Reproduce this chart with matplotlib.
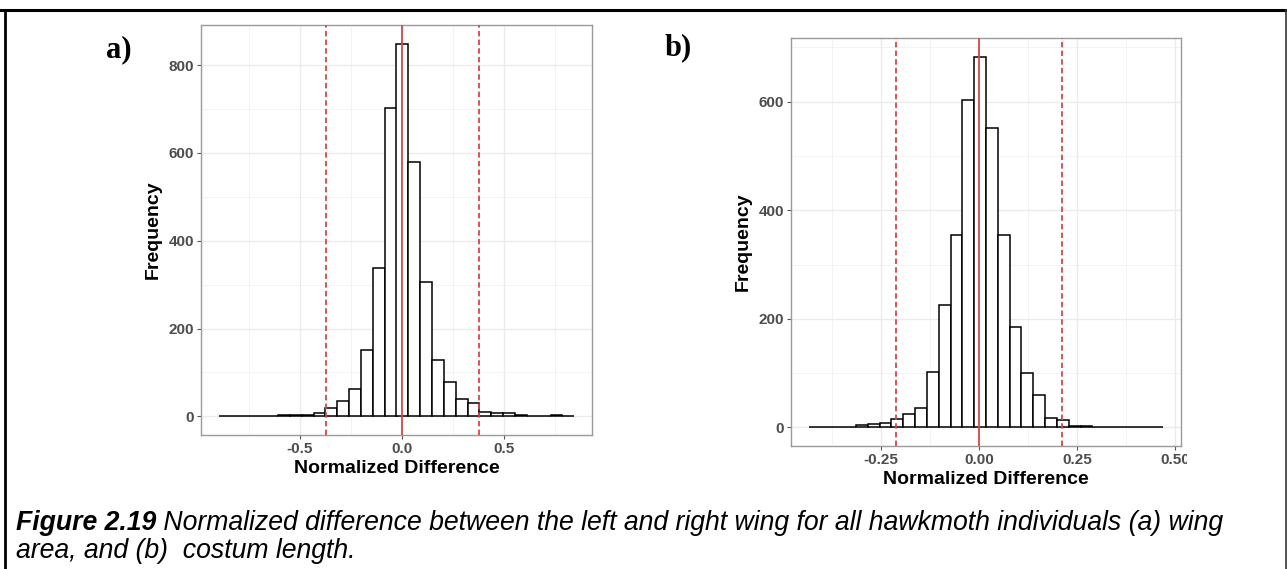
import numpy as np
import matplotlib.pyplot as plt
from matplotlib.lines import Line2D
from matplotlib.transforms import Bbox, TransformedBbox

plt.rcParams['font.family'] = ['Liberation Sans', 'DejaVu Sans']

# (a) wing area: 30 histogram bins
a_bin_start = -0.8976
a_bin_width = 0.0580
a_counts = [1, 0, 1, 0, 0, 4, 2, 3, 7, 18, 34, 63, 151, 337, 702,
            849, 579, 307, 128, 78, 40, 30, 10, 7, 8, 3, 1, 0, 2, 1]
a_mean = 0.0
a_bounds = [-0.375, 0.375]
a_xticks = [-0.5, 0.0, 0.5]
a_xticklabels = ['-0.5', '0.0', '0.5']
a_xminor = [-0.75, -0.25, 0.25, 0.75]
a_yticks = [0, 200, 400, 600, 800]
a_yminor = [100, 300, 500, 700]

# (b) costum length: 30 histogram bins
b_bin_start = -0.4347
b_bin_width = 0.03017
b_counts = [1, 0, 0, 0, 4, 7, 9, 16, 25, 36, 103, 225, 354, 603, 683,
            551, 354, 185, 101, 59, 18, 13, 2, 2, 1, 1, 0, 0, 0, 1]
b_mean = 0.0
b_bounds = [-0.213, 0.213]
b_xticks = [-0.25, 0.0, 0.25, 0.5]
b_xticklabels = ['-0.25', '0.00', '0.25', '0.50']
b_xminor = [-0.375, -0.125, 0.125, 0.375]
b_yticks = [0, 200, 400, 600]
b_yminor = [100, 300, 500, 700]

caption_bold = "Figure 2.19"
caption_rest = (" Normalized difference between the left and right wing "
                "for all hawkmoth individuals (a) wing")
caption_line2 = "area, and (b)  costum length."

W, H = 1287, 569
LINE_RED = '#D94545'


def draw_hist(ax, start, width, counts, mean, bounds,
              xticks, xticklabels, xminor, yticks, yminor):
    counts = np.asarray(counts)
    edges = start + width * np.arange(len(counts) + 1)

    # ggplot-like 5% expansion
    span = edges[-1] - edges[0]
    ax.set_xlim(edges[0] - 0.05 * span, edges[-1] + 0.05 * span)
    top = counts.max()
    ax.set_ylim(-0.05 * top, 1.05 * top)

    for v in xminor:
        ax.axvline(v, color='#F3F3F3', lw=0.7, zorder=0)
    for v in yminor:
        ax.axhline(v, color='#F3F3F3', lw=0.7, zorder=0)
    for v in xticks:
        ax.axvline(v, color='#EBEBEB', lw=1.0, zorder=0)
    for v in yticks:
        ax.axhline(v, color='#EBEBEB', lw=1.0, zorder=0)

    ax.bar(edges[:-1], counts, width=width, align='edge',
           facecolor='white', edgecolor='black', linewidth=1.1, zorder=2)

    ax.axvline(mean, color=LINE_RED, lw=1.3, zorder=3)
    for b in bounds:
        ax.axvline(b, color=LINE_RED, lw=1.3, ls=(0, (3, 1.8)), zorder=3)

    ax.set_xticks(xticks)
    ax.set_xticklabels(xticklabels)
    ax.set_yticks(yticks)
    ax.tick_params(length=3, width=0.8, color='#555555', labelsize=11,
                   labelcolor='#4D4D4D', pad=2)
    for lab in ax.get_xticklabels() + ax.get_yticklabels():
        lab.set_fontweight('bold')

    ax.set_xlabel('Normalized Difference', fontsize=14, fontweight='bold',
                  labelpad=3)
    ax.set_ylabel('Frequency', fontsize=14, fontweight='bold', labelpad=5)

    for s in ax.spines.values():
        s.set_color('#9A9A9A')
        s.set_linewidth(1.0)


fig = plt.figure(figsize=(W / 100, H / 100), dpi=100)

ax_a = fig.add_axes([201 / W, 1 - 435 / H, 391 / W, 410 / H])
draw_hist(ax_a, a_bin_start, a_bin_width, a_counts, a_mean, a_bounds,
          a_xticks, a_xticklabels, a_xminor, a_yticks, a_yminor)

ax_b = fig.add_axes([791 / W, 1 - 446 / H, 390 / W, 408 / H])
draw_hist(ax_b, b_bin_start, b_bin_width, b_counts, b_mean, b_bounds,
          b_xticks, b_xticklabels, b_xminor, b_yticks, b_yminor)

# the source image of panel b was cropped just right of the plot
clip = TransformedBbox(Bbox([[0, 0], [1187 / W, 1]]), fig.transFigure)
for lab in ax_b.get_xticklabels():
    lab.set_clip_box(clip)
    lab.set_clip_on(True)

fig.text(106 / W, 1 - 57 / H, 'a)', family='Liberation Serif',
         fontweight='bold', fontsize=22, va='baseline')
fig.text(665 / W, 1 - 55 / H, 'b)', family='Liberation Serif',
         fontweight='bold', fontsize=22, va='baseline')

# page frame
fig.add_artist(Line2D([0, 1], [1 - 9.7 / H] * 2, transform=fig.transFigure,
                      color='black', lw=2.2))
fig.add_artist(Line2D([5.3 / W] * 2, [0, 1 - 9.7 / H],
                      transform=fig.transFigure, color='black', lw=2.0))
fig.add_artist(Line2D([1285.8 / W] * 2, [0, 1 - 9.7 / H],
                      transform=fig.transFigure, color='#333333', lw=1.2))

# caption
t1 = fig.text(16 / W, 1 - 530 / H, caption_bold, fontsize=19.2,
              fontweight='bold', style='italic', va='baseline')
fig.canvas.draw()
bb = t1.get_window_extent()
fig.text(bb.x1 / W, 1 - 530 / H, caption_rest, fontsize=19.2,
         style='italic', va='baseline')
fig.text(16 / W, 1 - 558 / H, caption_line2, fontsize=19.2,
         style='italic', va='baseline')

fig.savefig('out.png', dpi=100)
